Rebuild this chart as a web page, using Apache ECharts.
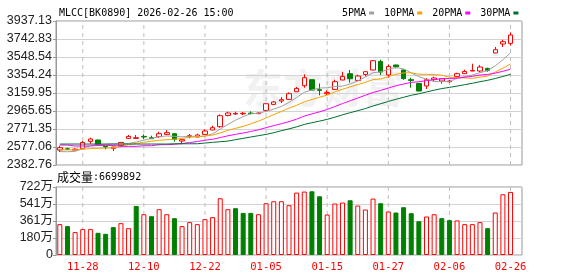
<!DOCTYPE html>
<html>
<head>
<meta charset="utf-8">
<script src="https://cdn.jsdelivr.net/npm/echarts@6/dist/echarts.min.js"></script>
<style>
html, body { margin: 0; padding: 0; background: #fff; }
#kline { width: 578px; height: 276px; }
</style>
</head>
<body>
<div id="kline"></div>
<script>
var myChart = echarts.init(document.getElementById('kline'));

// 交易日
var dates = ['11-25','11-26','11-27','11-28','12-01','12-02','12-03','12-04','12-05','12-08',
    '12-09','12-10','12-11','12-12','12-15','12-16','12-17','12-18','12-19','12-22',
    '12-23','12-24','12-25','12-26','12-29','12-30','12-31','01-05','01-06','01-07',
    '01-08','01-09','01-12','01-13','01-14','01-15','01-16','01-19','01-20','01-21',
    '01-22','01-23','01-26','01-27','01-28','01-29','01-30','02-02','02-03','02-04',
    '02-05','02-06','02-09','02-10','02-11','02-12','02-13','02-24','02-25','02-26'];
var xTickDates = ['11-28','12-10','12-22','01-05','01-15','01-27','02-06','02-26'];

// 开 收 低 高
var open = [2544.7,2557,2544.7,2562,2637.5,2652.6,2583.5,2562,2594.3,2669.9,
    2669.9,2691.5,2677.4,2688.2,2713.1,2720.6,2641.8,2691.5,2685,2713.1,
    2760.6,2796.2,2918.1,2933.3,2935,2943,2936.5,2972.1,3036.9,3073.6,
    3090.9,3173.9,3238.7,3303.5,3195.5,3152.4,3198.8,3300.3,3368.3,3295.9,
    3360.7,3408.2,3501,3354.2,3462.2,3408.2,3303.5,3263.6,3235.5,3303.5,
    3289.5,3281.9,3339.1,3368.3,3397.4,3397.4,3425.5,3591.7,3688.8,3695.3];
var close = [2569.5,2554,2553.3,2626.7,2663.4,2605.1,2577,2577,2626.7,2691.5,
    2677.4,2685,2666.6,2720.6,2731.4,2659.1,2655.8,2699,2706.6,2749.8,
    2785.4,2914.9,2944,2939.7,2941,2938,2944,3044.4,3062.8,3087.6,
    3152.4,3209.6,3325.1,3192.3,3188,3166.4,3281.9,3339.1,3314.3,3343.4,
    3389.9,3508.6,3386.6,3447,3443.8,3314.3,3295.9,3181.5,3303.5,3321.8,
    3314.3,3289.5,3368.3,3393.1,3403.9,3440.5,3403.9,3627.3,3713.7,3786];
var low = [2523.1,2545,2542.5,2562,2612.7,2600,2551.1,2533.9,2590,2667,
    2669,2663.4,2663,2677.4,2711,2634.3,2605.1,2669.9,2683,2711,
    2758,2785.4,2907.3,2922.5,2922,2930,2933,2968,3034,3052,
    3088,3172,3217.1,3190,3134,3138.3,3196,3298,3271.1,3294,
    3339.1,3405,3354.2,3325.1,3425.5,3303.5,3217.1,3178,3203.1,3289,
    3260.3,3268,3336,3366,3395,3382.3,3389,3589,3656.4,3670.5];
var high = [2591.1,2569,2562,2641.8,2677.4,2656,2586,2579,2630,2706.6,
    2706.6,2713.1,2699,2742.2,2760.6,2723,2657,2717.4,2720.6,2767,
    2806.9,2928.9,2958.1,2958,2954.8,2961.3,2950,3048,3073.6,3116.8,
    3166.4,3224.7,3360.7,3306,3263.6,3188,3303.5,3389.9,3408.2,3357.5,
    3395,3512,3519.4,3468.6,3466,3412,3325.1,3266,3321.8,3335.9,
    3317,3303,3379.1,3411.4,3476.2,3462.2,3433,3656.4,3735.3,3814.1];

// 均线
var ma5 = [2527,2526,2530,2560,2593.4,2600.5,2605.1,2609.8,2609.8,2615.5,
    2629.9,2651.5,2669.4,2688.2,2696.2,2692.5,2686.7,2693.2,2690.4,2694.1,
    2719.3,2771.1,2820.1,2866.8,2905,2935.5,2941.3,2961.4,2986,3015.4,
    3058.2,3111.4,3167.5,3193.4,3213.5,3216.3,3230.7,3233.5,3257.9,3289,
    3333.7,3379.1,3388.6,3415.1,3435.2,3420.1,3377.5,3336.5,3307.8,3283.4,
    3283.4,3282.1,3319.5,3337.4,3353.8,3379.1,3401.9,3453.7,3517.9,3594.3];
var ma10 = [2547,2546,2545,2552,2560,2563,2565,2567,2580,2604.4,
    2615.2,2628.3,2639.6,2649,2655.8,2661.2,2669.1,2681.3,2689.3,2695.1,
    2705.9,2728.9,2756.7,2778.6,2799.5,2827.4,2856.2,2890.8,2926.4,2960.2,
    2996.9,3026.4,3064.5,3089.7,3114.4,3137.3,3171.1,3200.5,3225.7,3251.3,
    3275,3304.9,3311.1,3336.5,3362.1,3376.9,3378.3,3362.5,3361.5,3359.3,
    3351.7,3329.8,3328,3322.6,3318.6,3331.2,3342,3386.6,3427.6,3474.1];
var ma20 = [2598,2598,2588,2588,2588,2594,2594,2594,2584,2584,
    2584,2591,2591,2602,2602,2606,2615,2625,2636,2649.8,
    2660.6,2678.6,2698.2,2713.8,2727.7,2744.3,2762.7,2786,2807.9,2827.7,
    2851.4,2877.6,2910.6,2934.1,2957,2982.3,3013.6,3045.7,3076,3105.7,
    3135.9,3165.6,3187.8,3213.1,3238.3,3257.1,3274.7,3281.5,3293.6,3305.3,
    3313.4,3317.4,3319.5,3329.6,3340.4,3354.1,3360.2,3374.6,3394.5,3416.7];
var ma30 = [2609,2609,2609,2609,2609,2609,2609,2609,2609,2609,
    2609,2609,2609,2609,2609,2612,2612,2612,2612,2620,
    2627,2634,2641,2656,2670,2685,2699,2713,2731,2753.2,
    2772.7,2794.5,2820.3,2839.1,2856.6,2875.3,2898.8,2924.2,2947.1,2968.9,
    2992.6,3020.1,3044.1,3068.3,3092,3113.9,3135.2,3151.3,3171.2,3190.2,
    3207.9,3220.4,3234.5,3249.6,3265,3281.8,3297.1,3316.6,3338.3,3361.5];

// 成交量
var volume = [3277000,3065000,2430000,2748000,2748000,2357000,2250000,2960000,3380000,2850000,
    5210000,4330000,4120000,4860000,4330000,3910000,3065000,3490000,3277000,3805000,
    4017000,6025000,4860000,4970000,4470000,4470000,4330000,5496000,5708000,5708000,
    5285000,6627000,6733000,6765000,6236000,4300000,5465000,5570000,5810000,5250000,
    4830000,5990000,5496000,4620000,4510000,5070000,4440000,3590000,4090000,4330000,
    3910000,3700000,3670000,3277000,3277000,3490000,2850000,4510000,6450000,6699892];
var volUp = [1,0,1,1,1,0,0,0,1,1, 0,1,0,1,1,0,1,1,1,1, 1,1,1,0,0,0,1,1,1,1,
    1,1,1,0,0,1,1,1,0,1, 1,1,0,1,0,0,0,0,1,1, 0,0,1,1,1,1,0,1,1,1];

var priceTicks = ['2382.76','2577.06','2771.35','2965.65','3159.95','3354.24','3548.54','3742.83','3937.13'];
var volTicks = ['0','180万','361万','541万','722万'];

var maNames = ['5PMA', '10PMA', '20PMA', '30PMA'];
var maColors = ['#a0a0a0', '#f5a300', '#ff00ff', '#006f30'];
var upColor = '#ff0000';
var downColor = '#008000';

var priceMin = 2382.76, priceMax = 3937.13;
var priceStep = (priceMax - priceMin) / (priceTicks.length - 1);
var volMax = 7220000;

var catData = dates.concat(['']);
var kData = dates.map(function (d, i) { return [open[i], close[i], low[i], high[i]]; });
var volData = volume.map(function (v, i) {
    return {
        value: v,
        itemStyle: volUp[i] ? { color: '#fff', borderColor: upColor, borderWidth: 1 }
                            : { color: downColor, borderColor: downColor, borderWidth: 1 }
    };
});
function isTick(index) { return xTickDates.indexOf(catData[index]) >= 0; }

var monoFont = "'DejaVu Sans Mono', 'Liberation Mono', monospace";
var gridLeft = 56, gridWidth = 466;
var grids = [{ top: 21, height: 144 }, { top: 187, height: 68 }];

// 日期竖虚线：每个日期一条两点折线，从轴底画到轴顶，放在K线和量柱下面
function dateLineSeries(gi, yLow, yHigh) {
    return xTickDates.map(function (d) {
        var idx = dates.indexOf(d);
        return {
            name: 'grid' + gi + '-' + d, type: 'line', xAxisIndex: gi, yAxisIndex: gi,
            data: [[idx, yLow], [idx, yHigh]],
            z: 1, silent: true, showSymbol: false, symbol: 'none',
            lineStyle: { color: '#bdbdbd', width: 1, type: [4, 4] },
            emphasis: { disabled: true }, tooltip: { show: false }
        };
    });
}

option = {
    animation: false,
    backgroundColor: '#fff',
    title: {
        text: 'MLCC[BK0890] 2026-02-26 15:00',
        left: 54,
        top: 3,
        textStyle: { fontFamily: monoFont, fontSize: 10, fontWeight: 'normal', color: '#000' }
    },
    legend: {
        data: maNames,
        left: 337,
        top: 3,
        align: 'right',
        icon: 'rect',
        itemWidth: 5,
        itemHeight: 3,
        itemGap: 10,
        textStyle: { fontFamily: monoFont, fontSize: 10, color: '#000', padding: [0, -2, 0, 0] }
    },
    graphic: [{
        type: 'text',
        left: 243,
        top: 68,
        z: -10,
        silent: true,
        style: { text: '东方财富', fontSize: 40, fontWeight: 'bold', fontFamily: 'Noto Sans CJK SC', fill: '#f1f1f1' }
    }, {
        type: 'text',
        left: 57,
        top: 171,
        style: {
            text: '{a|成交量}{b|:' + volume[volume.length - 1] + '}',
            rich: {
                a: { fontFamily: 'Noto Sans CJK SC', fontSize: 12, fill: '#000' },
                b: { fontFamily: monoFont, fontSize: 10, fill: '#000' }
            }
        }
    }],
    grid: grids.map(function (g) {
        return { left: gridLeft, top: g.top, width: gridWidth, height: g.height, show: true, borderColor: '#999', borderWidth: 1 };
    }),
    xAxis: [{
        type: 'category', gridIndex: 0, data: catData, boundaryGap: true,
        axisLine: { show: false }, axisTick: { show: false }, axisLabel: { show: false },
        splitLine: { show: false }
    }, {
        type: 'category', gridIndex: 1, data: catData, boundaryGap: true,
        axisLine: { show: false }, axisTick: { show: false },
        axisLabel: { show: true, interval: function (i) { return isTick(i); },
            color: upColor, fontFamily: monoFont, fontSize: 10.5, margin: 7 },
        splitLine: { show: false }
    }],
    yAxis: [{
        type: 'value', gridIndex: 0, min: priceMin, max: priceMax, interval: priceStep,
        axisLine: { show: true, lineStyle: { color: '#999' } },
        axisTick: { show: true, length: 3, lineStyle: { color: '#999' } },
        axisLabel: { color: '#222', fontFamily: 'Liberation Sans', fontSize: 12.5, margin: 4,
            formatter: function (v) { return priceTicks[Math.round((v - priceMin) / priceStep)]; } },
        splitLine: { show: true, lineStyle: { color: '#d2d2d2' } }
    }, {
        type: 'value', gridIndex: 1, min: 0, max: volMax, interval: volMax / (volTicks.length - 1),
        axisLine: { show: true, lineStyle: { color: '#999' } },
        axisTick: { show: true, length: 3, lineStyle: { color: '#999' } },
        axisLabel: { color: '#222', fontFamily: "'Liberation Sans', 'Noto Sans CJK SC'", fontSize: 12.5, margin: 3,
            formatter: function (v) { return volTicks[Math.round(v / (volMax / (volTicks.length - 1)))]; } },
        splitLine: { show: true, lineStyle: { color: '#d2d2d2' } }
    }],
    series: dateLineSeries(0, priceMin, priceMax).concat(dateLineSeries(1, 0, volMax)).concat([{
        name: 'K', type: 'candlestick', xAxisIndex: 0, yAxisIndex: 0, data: kData,
        barWidth: 5, z: 3,
        itemStyle: { color: '#fff', color0: downColor, borderColor: upColor, borderColor0: downColor, borderWidth: 1 }
    }]).concat([ma5, ma10, ma20, ma30].map(function (arr, k) {
        return {
            name: maNames[k], type: 'line', xAxisIndex: 0, yAxisIndex: 0, data: arr,
            showSymbol: false, symbol: 'none', smooth: false, z: 4,
            lineStyle: { color: maColors[k], width: 1 }, itemStyle: { color: maColors[k] }
        };
    })).concat([{
        name: 'VOL', type: 'bar', xAxisIndex: 1, yAxisIndex: 1, data: volData, barWidth: 5, z: 3
    }])
};
myChart.setOption(option);

window.addEventListener('resize', function () {
    myChart.resize();
});
</script>
</body>
</html>
